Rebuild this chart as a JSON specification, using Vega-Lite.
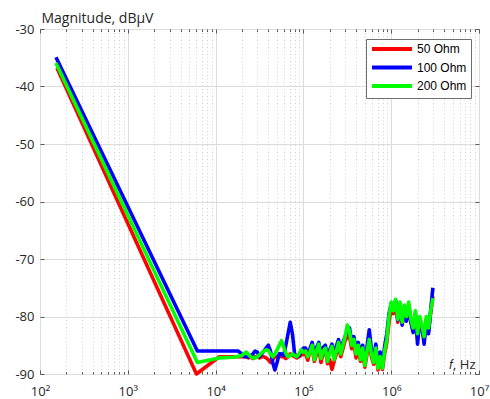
{
  "$schema": "https://vega.github.io/schema/vega-lite/v6.json",
  "width": 439,
  "height": 345,
  "autosize": {"type": "none"},
  "padding": {"left": 40, "top": 29, "right": 11, "bottom": 25},
  "background": "white",
  "config": {
    "view": {"stroke": "#5a5a5a", "strokeWidth": 1},
    "font": "Open Sans"
  },
  "data": {
    "values": [
      {"f": 19950, "50 Ohm": -87, "100 Ohm": -86.5, "200 Ohm": -86.8},
      {"f": 152, "100 Ohm": -34.9, "200 Ohm": -35.9},
      {"f": 156, "50 Ohm": -36.8},
      {"f": 6050, "50 Ohm": -90},
      {"f": 6200, "100 Ohm": -86, "200 Ohm": -88},
      {"f": 11000, "50 Ohm": -87, "200 Ohm": -87.2},
      {"f": 16000, "200 Ohm": -87.1},
      {"f": 18000, "100 Ohm": -86},
      {"f": 21130, "50 Ohm": -87, "100 Ohm": -87, "200 Ohm": -86.4},
      {"f": 22390, "50 Ohm": -87, "100 Ohm": -87, "200 Ohm": -86.2},
      {"f": 23710, "50 Ohm": -87.2, "100 Ohm": -87, "200 Ohm": -86.6},
      {"f": 25120, "50 Ohm": -87, "100 Ohm": -86.8, "200 Ohm": -87},
      {"f": 26610, "50 Ohm": -87.3, "100 Ohm": -86.5, "200 Ohm": -87.2},
      {"f": 28180, "50 Ohm": -87, "100 Ohm": -86, "200 Ohm": -87.2},
      {"f": 29850, "50 Ohm": -87, "100 Ohm": -86.2, "200 Ohm": -87},
      {"f": 31620, "50 Ohm": -87.2, "100 Ohm": -87, "200 Ohm": -86.7},
      {"f": 33500, "50 Ohm": -87, "100 Ohm": -86.5, "200 Ohm": -86.3},
      {"f": 35480, "50 Ohm": -87, "100 Ohm": -86, "200 Ohm": -86},
      {"f": 37580, "50 Ohm": -87.2, "100 Ohm": -85.5, "200 Ohm": -85.8},
      {"f": 39810, "50 Ohm": -87.5, "100 Ohm": -85, "200 Ohm": -85.9},
      {"f": 42170, "50 Ohm": -88, "100 Ohm": -86, "200 Ohm": -86.5},
      {"f": 44670, "50 Ohm": -87.5, "100 Ohm": -88, "200 Ohm": -87},
      {"f": 47320, "50 Ohm": -87, "100 Ohm": -89.3, "200 Ohm": -86.5},
      {"f": 50120, "50 Ohm": -87, "100 Ohm": -88, "200 Ohm": -85.8},
      {"f": 53090, "50 Ohm": -86.8, "100 Ohm": -86.5, "200 Ohm": -85},
      {"f": 56230, "50 Ohm": -87, "100 Ohm": -86.5, "200 Ohm": -84.2},
      {"f": 59570, "50 Ohm": -87, "100 Ohm": -86.8, "200 Ohm": -85.3},
      {"f": 63100, "50 Ohm": -87.3, "100 Ohm": -85, "200 Ohm": -86.4},
      {"f": 66830, "50 Ohm": -87, "100 Ohm": -83, "200 Ohm": -87},
      {"f": 70790, "50 Ohm": -86.5, "100 Ohm": -81, "200 Ohm": -86.8},
      {"f": 74990, "50 Ohm": -86.8, "100 Ohm": -83, "200 Ohm": -86.5},
      {"f": 79430, "50 Ohm": -87, "100 Ohm": -86.5, "200 Ohm": -86.8},
      {"f": 84140, "50 Ohm": -87.2, "100 Ohm": -87, "200 Ohm": -87},
      {"f": 89130, "50 Ohm": -87, "100 Ohm": -86.8, "200 Ohm": -86.5},
      {"f": 94410, "50 Ohm": -86.7, "100 Ohm": -86, "200 Ohm": -85.8},
      {"f": 100000, "50 Ohm": -86.6, "100 Ohm": -85.5, "200 Ohm": -86.2},
      {"f": 105900, "50 Ohm": -86.5, "100 Ohm": -85.5, "200 Ohm": -86},
      {"f": 112200, "50 Ohm": -87.6, "100 Ohm": -86.5, "200 Ohm": -87},
      {"f": 118900, "50 Ohm": -86, "100 Ohm": -85.6, "200 Ohm": -86.2},
      {"f": 125900, "50 Ohm": -85.6, "100 Ohm": -84.5, "200 Ohm": -85},
      {"f": 133400, "50 Ohm": -87.8, "100 Ohm": -87, "200 Ohm": -87.5},
      {"f": 141300, "50 Ohm": -86.5, "100 Ohm": -85.4, "200 Ohm": -86},
      {"f": 149600, "50 Ohm": -85.5, "100 Ohm": -84.5, "200 Ohm": -84.8},
      {"f": 158500, "50 Ohm": -88, "100 Ohm": -86.8, "200 Ohm": -87.3},
      {"f": 167900, "50 Ohm": -86.3, "100 Ohm": -85.4, "200 Ohm": -86},
      {"f": 177800, "50 Ohm": -85.8, "100 Ohm": -85, "200 Ohm": -85.5},
      {"f": 188400, "50 Ohm": -88.2, "100 Ohm": -87.2, "200 Ohm": -87.8},
      {"f": 199500, "50 Ohm": -87.5, "100 Ohm": -85.8, "200 Ohm": -86.3},
      {"f": 211300, "50 Ohm": -89.2, "100 Ohm": -84.8, "200 Ohm": -85.2},
      {"f": 223900, "50 Ohm": -87.8, "100 Ohm": -86.8, "200 Ohm": -87.5},
      {"f": 237100, "50 Ohm": -86.5, "100 Ohm": -85.2, "200 Ohm": -86},
      {"f": 251200, "50 Ohm": -85.2, "100 Ohm": -84, "200 Ohm": -84.5},
      {"f": 266100, "50 Ohm": -87, "100 Ohm": -86, "200 Ohm": -86.5},
      {"f": 281800, "50 Ohm": -85.6, "100 Ohm": -84.5, "200 Ohm": -85},
      {"f": 298500, "50 Ohm": -84.2, "100 Ohm": -83.5, "200 Ohm": -83.5},
      {"f": 316200, "50 Ohm": -83.5, "100 Ohm": -82.5, "200 Ohm": -81.5},
      {"f": 335000, "50 Ohm": -83.5, "100 Ohm": -82, "200 Ohm": -82.5},
      {"f": 354800, "50 Ohm": -85.6, "100 Ohm": -84.4, "200 Ohm": -85},
      {"f": 375800, "50 Ohm": -84.8, "100 Ohm": -83.5, "200 Ohm": -84},
      {"f": 398100, "50 Ohm": -87.2, "100 Ohm": -86, "200 Ohm": -86.5},
      {"f": 421700, "50 Ohm": -85.8, "100 Ohm": -84.5, "200 Ohm": -85},
      {"f": 446700, "50 Ohm": -87.8, "100 Ohm": -87, "200 Ohm": -87.5},
      {"f": 473200, "50 Ohm": -86.2, "100 Ohm": -85, "200 Ohm": -85.5},
      {"f": 501200, "50 Ohm": -88.8, "100 Ohm": -88, "200 Ohm": -88.5},
      {"f": 530900, "50 Ohm": -86.5, "100 Ohm": -85.2, "200 Ohm": -86},
      {"f": 562300, "50 Ohm": -84.4, "100 Ohm": -82.3, "200 Ohm": -84},
      {"f": 595700, "50 Ohm": -87, "100 Ohm": -85.8, "200 Ohm": -86.5},
      {"f": 631000, "50 Ohm": -88.3, "100 Ohm": -87.5, "200 Ohm": -88},
      {"f": 668300, "50 Ohm": -86, "100 Ohm": -84.8, "200 Ohm": -85.5},
      {"f": 707900, "50 Ohm": -89.3, "100 Ohm": -88.6, "200 Ohm": -89},
      {"f": 749900, "50 Ohm": -87.4, "100 Ohm": -86.2, "200 Ohm": -87},
      {"f": 794300, "50 Ohm": -89.2, "100 Ohm": -88.5, "200 Ohm": -89},
      {"f": 841400, "50 Ohm": -86.5, "100 Ohm": -85.2, "200 Ohm": -86},
      {"f": 891300, "50 Ohm": -84.5, "100 Ohm": -83, "200 Ohm": -84},
      {"f": 944100, "50 Ohm": -81, "100 Ohm": -79.5, "200 Ohm": -80},
      {"f": 1000000, "50 Ohm": -78.5, "100 Ohm": -77.8, "200 Ohm": -77.5},
      {"f": 1059000, "50 Ohm": -79.5, "100 Ohm": -78.6, "200 Ohm": -79},
      {"f": 1122000, "50 Ohm": -77.5, "100 Ohm": -77.2, "200 Ohm": -77},
      {"f": 1189000, "50 Ohm": -81, "100 Ohm": -80.6, "200 Ohm": -80.5},
      {"f": 1259000, "50 Ohm": -77.8, "100 Ohm": -78, "200 Ohm": -77.5},
      {"f": 1334000, "50 Ohm": -81.3, "100 Ohm": -81.5, "200 Ohm": -81},
      {"f": 1413000, "50 Ohm": -78.3, "100 Ohm": -78.5, "200 Ohm": -78},
      {"f": 1496000, "50 Ohm": -80.5, "100 Ohm": -80.8, "200 Ohm": -80},
      {"f": 1585000, "50 Ohm": -78, "100 Ohm": -78.3, "200 Ohm": -77.5},
      {"f": 1679000, "50 Ohm": -81, "100 Ohm": -81, "200 Ohm": -80.5},
      {"f": 1778000, "50 Ohm": -82.5, "100 Ohm": -82.8, "200 Ohm": -82},
      {"f": 1884000, "50 Ohm": -79.5, "100 Ohm": -79.5, "200 Ohm": -79},
      {"f": 1995000, "50 Ohm": -83.6, "100 Ohm": -84.8, "200 Ohm": -83},
      {"f": 2113000, "50 Ohm": -80.5, "100 Ohm": -80.8, "200 Ohm": -80},
      {"f": 2239000, "50 Ohm": -82, "100 Ohm": -81.8, "200 Ohm": -81.5},
      {"f": 2371000, "50 Ohm": -84, "100 Ohm": -84.8, "200 Ohm": -83.5},
      {"f": 2512000, "50 Ohm": -80.5, "100 Ohm": -80.6, "200 Ohm": -80},
      {"f": 2661000, "50 Ohm": -82.6, "100 Ohm": -83, "200 Ohm": -82},
      {"f": 2818000, "50 Ohm": -79.3, "100 Ohm": -78.8, "200 Ohm": -79},
      {"f": 2985000, "50 Ohm": -76.5, "100 Ohm": -75, "200 Ohm": -76.8}
    ]
  },
  "transform": [
    {"fold": ["50 Ohm", "100 Ohm", "200 Ohm"], "as": ["load", "value"]},
    {"filter": "isValid(datum.value)"}
  ],
  "layer": [
    {
      "mark": {"type": "line", "strokeWidth": 3.6, "strokeJoin": "round"},
      "encoding": {
        "x": {
          "field": "f",
          "type": "quantitative",
          "scale": {"type": "log", "domain": [100, 10000000], "nice": false},
          "axis": {
            "orient": "bottom",
            "title": "𝑓, Hz",
            "titleFont": "Open Sans",
            "titleFontSize": 13,
            "titleFontWeight": "normal",
            "titleColor": "#262626",
            "titleAlign": "right",
            "titleBaseline": "alphabetic",
            "titleAnchor": null,
            "titleX": 435,
            "titleY": -6,
            "values": [100, 200, 300, 400, 500, 600, 700, 800, 900, 1000, 2000, 3000, 4000, 5000, 6000, 7000, 8000, 9000, 10000, 20000, 30000, 40000, 50000, 60000, 70000, 80000, 90000, 100000, 200000, 300000, 400000, 500000, 600000, 700000, 800000, 900000, 1000000, 2000000, 3000000, 4000000, 5000000, 6000000, 7000000, 8000000, 9000000, 10000000],
            "labelExpr": "datum.value == 100 ? '10²' : datum.value == 1000 ? '10³' : datum.value == 10000 ? '10⁴' : datum.value == 100000 ? '10⁵' : datum.value == 1000000 ? '10⁶' : datum.value == 10000000 ? '10⁷' : ''",
            "labelFontSize": 13,
            "labelColor": "#262626",
            "labelPadding": 15,
            "labelFlush": false,
            "labelOverlap": false,
            "domain": false,
            "ticks": true,
            "tickColor": "#5a5a5a",
            "tickSize": {"condition": {"test": "indexof([100,1000,10000,100000,1000000,10000000], datum.value) >= 0", "value": -4}, "value": -2.5},
            "grid": true,
            "gridColor": {"condition": {"test": "indexof([100,1000,10000,100000,1000000,10000000], datum.value) >= 0", "value": "#dcdcdc"}, "value": "#d0d0d0"},
            "gridDash": {"condition": {"test": "indexof([100,1000,10000,100000,1000000,10000000], datum.value) >= 0", "value": []}, "value": [1, 2.5]},
            "gridWidth": 1
          }
        },
        "y": {
          "field": "value",
          "type": "quantitative",
          "scale": {"domain": [-90, -30], "nice": false, "zero": false},
          "axis": {
            "orient": "left",
            "title": "Magnitude, dBμV",
            "titleFont": "Open Sans",
            "titleFontSize": 14,
            "titleFontWeight": "normal",
            "titleColor": "#262626",
            "titleAngle": 0,
            "titleAlign": "left",
            "titleBaseline": "alphabetic",
            "titleAnchor": null,
            "titleX": 1,
            "titleY": -7,
            "values": [-90, -80, -70, -60, -50, -40, -30],
            "labelExpr": "'' + datum.value",
            "labelFontSize": 13,
            "labelColor": "#262626",
            "labelPadding": 10,
            "domain": false,
            "ticks": true,
            "tickSize": -4,
            "tickColor": "#5a5a5a",
            "grid": true,
            "gridColor": "#dcdcdc",
            "gridWidth": 1
          }
        },
        "color": {
          "field": "load",
          "type": "nominal",
          "scale": {"domain": ["50 Ohm", "100 Ohm", "200 Ohm"], "range": ["#ff0000", "#0000ff", "#00ff00"]},
          "legend": {
            "orient": "none",
            "legendX": 326,
            "legendY": 10,
            "title": null,
            "symbolType": "M-1,0H9",
            "symbolSize": 64,
            "symbolStrokeWidth": 4,
            "labelFont": "Liberation Sans",
            "labelFontSize": 12,
            "labelColor": "#000000",
            "labelOffset": 35,
            "fillColor": "#ffffff",
            "strokeColor": "#6e6e6e",
            "padding": 4,
            "rowPadding": 2.5
          }
        }
      }
    },
    {
      "mark": {"type": "point", "opacity": 0},
      "encoding": {
        "x": {
          "field": "f",
          "type": "quantitative",
          "axis": {
            "orient": "top",
            "title": null,
            "labels": false,
            "domain": false,
            "grid": false,
            "values": [100, 200, 300, 400, 500, 600, 700, 800, 900, 1000, 2000, 3000, 4000, 5000, 6000, 7000, 8000, 9000, 10000, 20000, 30000, 40000, 50000, 60000, 70000, 80000, 90000, 100000, 200000, 300000, 400000, 500000, 600000, 700000, 800000, 900000, 1000000, 2000000, 3000000, 4000000, 5000000, 6000000, 7000000, 8000000, 9000000, 10000000],
            "tickColor": "#5a5a5a",
            "tickSize": {"condition": {"test": "indexof([100,1000,10000,100000,1000000,10000000], datum.value) >= 0", "value": -4}, "value": -2.5}
          }
        },
        "y": {
          "field": "value",
          "type": "quantitative",
          "axis": {
            "orient": "right",
            "title": null,
            "labels": false,
            "domain": false,
            "grid": false,
            "values": [-90, -80, -70, -60, -50, -40, -30],
            "tickColor": "#5a5a5a",
            "tickSize": -4
          }
        }
      }
    }
  ],
  "resolve": {"axis": {"x": "independent", "y": "independent"}}
}
